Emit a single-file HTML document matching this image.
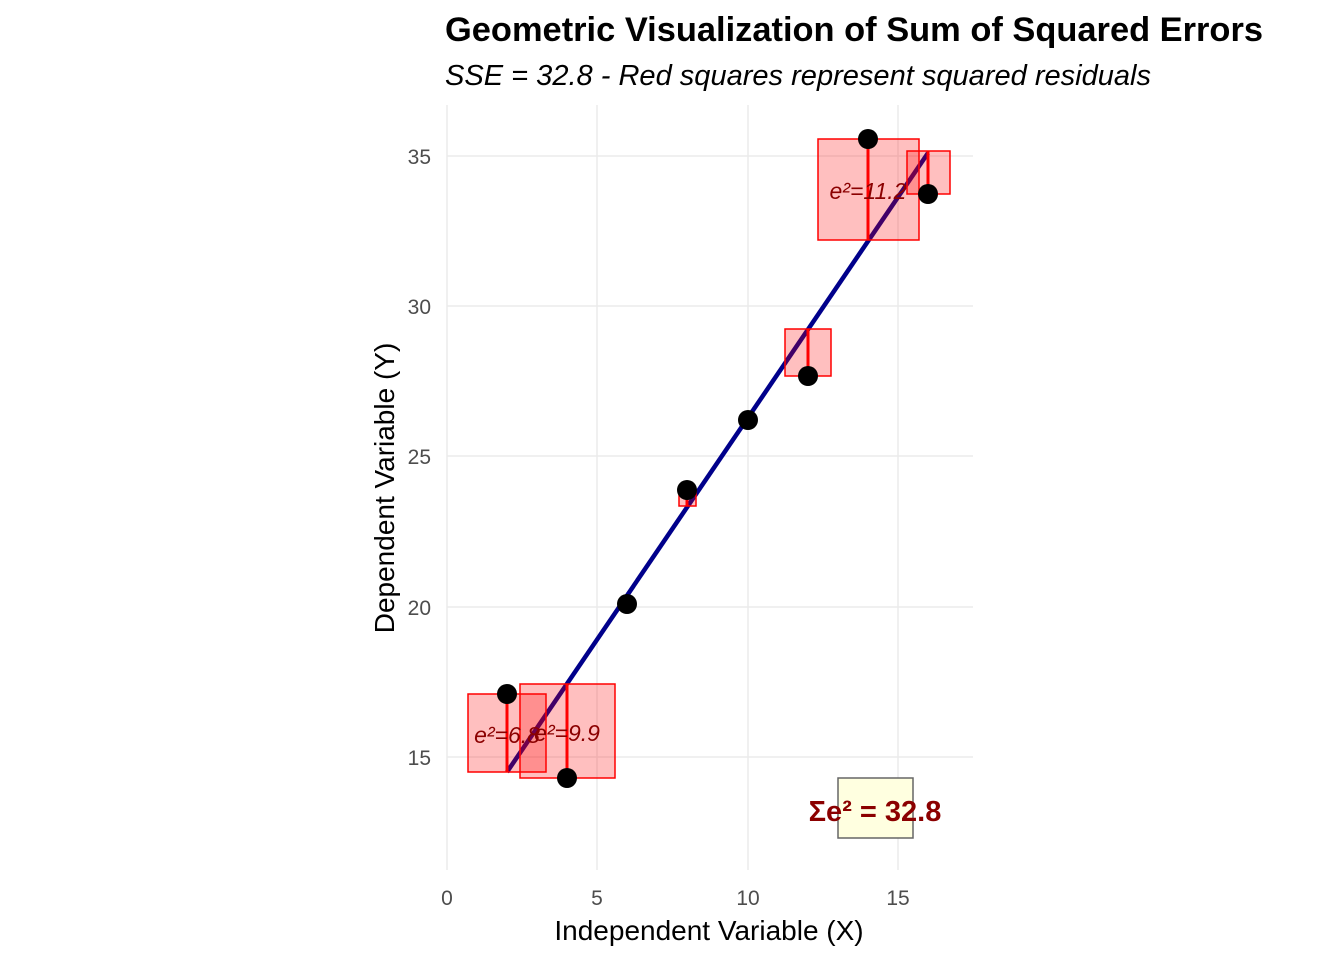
<!DOCTYPE html>
<html><head><meta charset="utf-8"><style>body{margin:0;background:#fff}</style></head><body>
<svg width="1344" height="960" xmlns="http://www.w3.org/2000/svg" font-family="Liberation Sans, sans-serif">
<rect width="1344" height="960" fill="#fff"/>
<g stroke="#ebebeb" stroke-width="1.5">
<line x1="447" y1="105" x2="447" y2="870"/><line x1="597" y1="105" x2="597" y2="870"/><line x1="748" y1="105" x2="748" y2="870"/><line x1="898" y1="105" x2="898" y2="870"/>
<line x1="447" y1="156" x2="973" y2="156"/><line x1="447" y1="306" x2="973" y2="306"/><line x1="447" y1="456" x2="973" y2="456"/><line x1="447" y1="607" x2="973" y2="607"/><line x1="447" y1="757" x2="973" y2="757"/>
</g>
<line x1="507" y1="772" x2="928" y2="153" stroke="#00008b" stroke-width="4.5"/>
<g fill="rgba(255,0,0,0.25)" stroke="#ff0000" stroke-width="1.5">
<rect x="468" y="694" width="78" height="78"/>
<rect x="520" y="684" width="95" height="94"/>
<rect x="679" y="490" width="17" height="16"/>
<rect x="785" y="329" width="46" height="47"/>
<rect x="818" y="139" width="101" height="101"/>
<rect x="907" y="151" width="43" height="43"/>
</g>
<g stroke="#ff0000" stroke-width="3">
<line x1="507" y1="694" x2="507" y2="772"/><line x1="567" y1="684" x2="567" y2="778"/><line x1="687" y1="490" x2="687" y2="506"/><line x1="808" y1="329" x2="808" y2="376"/><line x1="868" y1="139" x2="868" y2="240"/><line x1="928" y1="151" x2="928" y2="194"/>
</g>
<g fill="#000">
<circle cx="507" cy="694" r="10"/><circle cx="567" cy="778" r="10"/><circle cx="627" cy="604" r="10"/><circle cx="687" cy="490" r="10"/><circle cx="748" cy="420" r="10"/><circle cx="808" cy="376" r="10"/><circle cx="868" cy="139" r="10"/><circle cx="928" cy="194" r="10"/>
</g>
<g fill="#8b0000" font-style="italic" font-size="23" text-anchor="middle">
<text x="507" y="743">e²=6.8</text><text x="567" y="741">e²=9.9</text><text x="868" y="199">e²=11.2</text>
</g>
<rect x="838" y="778" width="75" height="60" fill="#ffffe0" stroke="#666" stroke-width="1.5"/>
<text x="875" y="821" fill="#8b0000" font-weight="bold" font-size="29" text-anchor="middle">Σe² = 32.8</text>
<g fill="#4d4d4d" font-size="21" text-anchor="middle">
<text x="447" y="905">0</text><text x="597" y="905">5</text><text x="748" y="905">10</text><text x="898" y="905">15</text>
</g>
<g fill="#4d4d4d" font-size="21" text-anchor="end">
<text x="431" y="164">35</text><text x="431" y="314">30</text><text x="431" y="464">25</text><text x="431" y="615">20</text><text x="431" y="765">15</text>
</g>
<text x="709" y="940" font-size="28" text-anchor="middle">Independent Variable (X)</text>
<text transform="translate(394,488) rotate(-90)" font-size="28" text-anchor="middle">Dependent Variable (Y)</text>
<text x="445" y="41" font-size="34" font-weight="bold" textLength="818" lengthAdjust="spacingAndGlyphs">Geometric Visualization of Sum of Squared Errors</text>
<text x="445" y="85" font-size="29" font-style="italic" textLength="706" lengthAdjust="spacingAndGlyphs">SSE = 32.8 - Red squares represent squared residuals</text>
</svg>
</body></html>
